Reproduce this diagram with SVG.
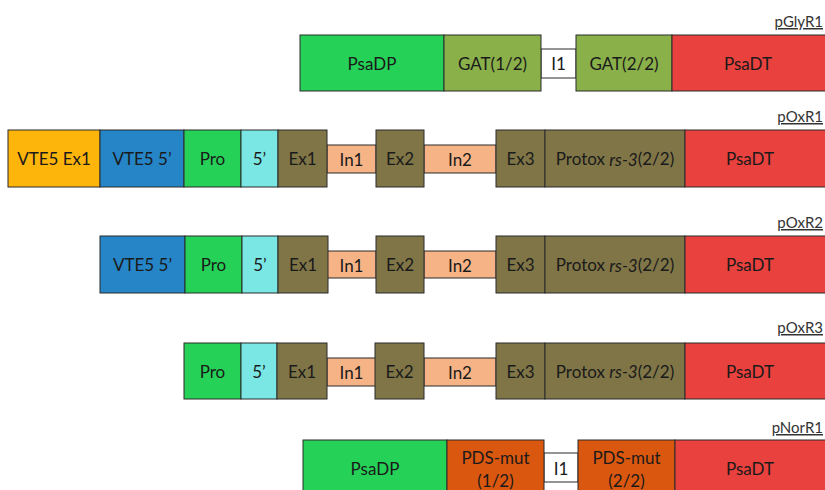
<svg xmlns="http://www.w3.org/2000/svg" width="825" height="490" viewBox="0 0 825 490">
<style>
rect{stroke:#2b2b2b;stroke-width:1}
text{font-family:Lato,"Open Sans","Liberation Sans",sans-serif;font-size:17px;fill:#1a1a1a;text-anchor:middle;dominant-baseline:central}
.lbl{font-size:15px;text-anchor:end;dominant-baseline:alphabetic;text-decoration:underline;fill:#333}
.gr{fill:#25D257}.ol{fill:#8AB04A}.rd{fill:#E8413E}.wh{fill:#fff}
.ye{fill:#FDB50C}.bl{fill:#2585C6}.cy{fill:#7BE7E4}.br{fill:#7F7547}.pe{fill:#F6B386}.or{fill:#DA570F}
</style>
<rect width="825" height="490" fill="#fff" style="stroke:none"/>
<g id="connectors">
<rect class="wh" x="541" y="49" width="35" height="29"/>
<rect class="pe" x="327" y="145" width="49" height="28"/>
<rect class="pe" x="424" y="145" width="72" height="28"/>
<rect class="pe" x="327" y="251" width="49" height="27"/>
<rect class="pe" x="424" y="251" width="72" height="27"/>
<rect class="pe" x="327" y="358" width="49" height="28"/>
<rect class="pe" x="424" y="358" width="72" height="28"/>
<rect class="wh" x="544" y="453" width="34" height="29"/>
</g>
<g id="pGlyR1">
<text class="lbl" x="823" y="27">pGlyR1</text>
<rect class="gr" x="300" y="35" width="144" height="56"/><text x="372" y="63">PsaDP</text>
<rect class="ol" x="444" y="35" width="97" height="56"/><text x="492.5" y="63">GAT(1/2)</text>
<text x="558.5" y="63">I1</text>
<rect class="ol" x="576" y="35" width="96" height="56"/><text x="624" y="63">GAT(2/2)</text>
<rect class="rd" x="672" y="35" width="160" height="56"/><text x="748" y="63">PsaDT</text>
</g>
<g id="pOxR1">
<text class="lbl" x="823" y="122">pOxR1</text>
<rect class="ye" x="8" y="130" width="92" height="57"/><text x="54" y="158.5">VTE5 Ex1</text>
<rect class="bl" x="100" y="130" width="84" height="57"/><text x="142" y="158.5">VTE5 5’</text>
<rect class="gr" x="184" y="130" width="57" height="57"/><text x="212.5" y="158.5">Pro</text>
<rect class="cy" x="241" y="130" width="37" height="57"/><text x="259.5" y="158.5">5’</text>
<rect class="br" x="278" y="130" width="49" height="57"/><text x="302.5" y="158.5">Ex1</text>
<text x="351.5" y="159">In1</text>
<rect class="br" x="376" y="130" width="48" height="57"/><text x="400" y="158.5">Ex2</text>
<text x="460" y="159">In2</text>
<rect class="br" x="496" y="130" width="49" height="57"/><text x="520.5" y="158.5">Ex3</text>
<rect class="br" x="545" y="130" width="140" height="57"/><text x="615" y="158.5">Protox <tspan font-style="italic">rs-3</tspan>(2/2)</text>
<rect class="rd" x="685" y="130" width="147" height="57"/><text x="750" y="158.5">PsaDT</text>
</g>
<g id="pOxR2">
<text class="lbl" x="823" y="228">pOxR2</text>
<rect class="bl" x="100" y="236" width="85" height="57"/><text x="142.5" y="264.5">VTE5 5’</text>
<rect class="gr" x="185" y="236" width="57" height="57"/><text x="213.5" y="264.5">Pro</text>
<rect class="cy" x="242" y="236" width="36" height="57"/><text x="260" y="264.5">5’</text>
<rect class="br" x="278" y="236" width="50" height="57"/><text x="303" y="264.5">Ex1</text>
<text x="351.5" y="265">In1</text>
<rect class="br" x="376" y="236" width="48" height="57"/><text x="400" y="264.5">Ex2</text>
<text x="460" y="265">In2</text>
<rect class="br" x="496" y="236" width="49" height="57"/><text x="520.5" y="264.5">Ex3</text>
<rect class="br" x="545" y="236" width="140" height="57"/><text x="615" y="264.5">Protox <tspan font-style="italic">rs-3</tspan>(2/2)</text>
<rect class="rd" x="685" y="236" width="147" height="57"/><text x="750" y="264.5">PsaDT</text>
</g>
<g id="pOxR3">
<text class="lbl" x="823" y="333">pOxR3</text>
<rect class="gr" x="184" y="343" width="57" height="56"/><text x="212.5" y="371">Pro</text>
<rect class="cy" x="241" y="343" width="36" height="56"/><text x="259" y="371">5’</text>
<rect class="br" x="277" y="343" width="50" height="56"/><text x="302" y="371">Ex1</text>
<text x="351.5" y="372">In1</text>
<rect class="br" x="375" y="343" width="49" height="56"/><text x="399.5" y="371">Ex2</text>
<text x="460" y="372">In2</text>
<rect class="br" x="496" y="343" width="49" height="56"/><text x="520.5" y="371">Ex3</text>
<rect class="br" x="545" y="343" width="140" height="56"/><text x="615" y="371">Protox <tspan font-style="italic">rs-3</tspan>(2/2)</text>
<rect class="rd" x="685" y="343" width="147" height="56"/><text x="750" y="371">PsaDT</text>
</g>
<g id="pNorR1">
<text class="lbl" x="823" y="433">pNorR1</text>
<rect class="gr" x="303" y="440" width="144" height="57"/><text x="375" y="468">PsaDP</text>
<rect class="or" x="447" y="440" width="97" height="57"/><text x="495.5" y="457">PDS-mut</text><text x="495.5" y="480">(1/2)</text>
<text x="561" y="468">I1</text>
<rect class="or" x="578" y="440" width="97" height="57"/><text x="626.5" y="457">PDS-mut</text><text x="626.5" y="480">(2/2)</text>
<rect class="rd" x="675" y="440" width="157" height="57"/><text x="750" y="468">PsaDT</text>
</g>
</svg>
